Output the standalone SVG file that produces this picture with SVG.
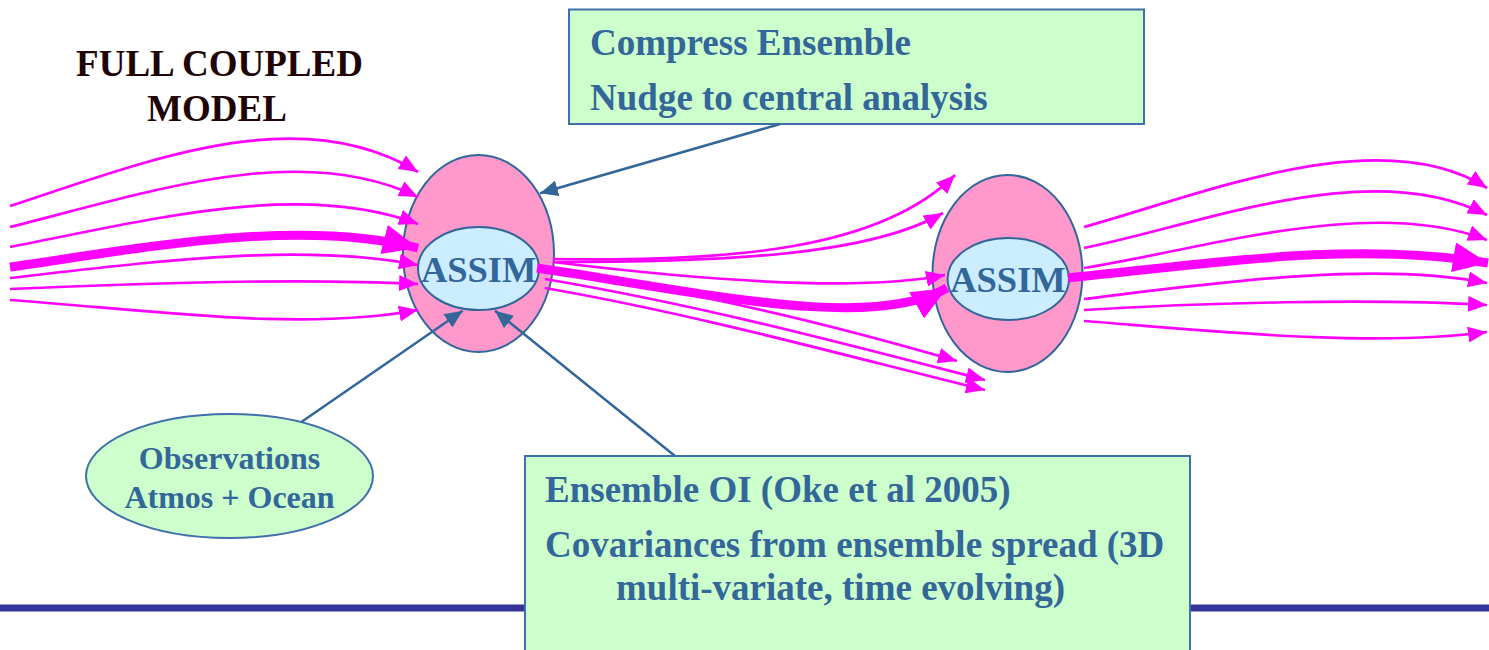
<svg xmlns="http://www.w3.org/2000/svg" width="1489" height="650" viewBox="0 0 1489 650">
<defs>
<style>
.txt{font-family:"Liberation Serif","Times New Roman",serif;font-weight:bold;fill:#336699}
.title{font-family:"Liberation Serif","Times New Roman",serif;font-weight:bold;fill:#1f0505}
.outer{fill:#FF99CC;stroke:#336699;stroke-width:2}
.inner{fill:#CCECFF;stroke:#336699;stroke-width:2}
.box{fill:#CCFFCC;stroke:#4070AA;stroke-width:2}
.mg{fill:none;stroke:#FF00FF;stroke-width:2.7;marker-end:url(#ah)}
.mgT{fill:none;stroke:#FF00FF;stroke-width:9;marker-end:url(#ahT)}
.bl{fill:none;stroke:#336699;stroke-width:2.5;marker-end:url(#ahB)}
</style>
<marker id="ah" markerUnits="userSpaceOnUse" markerWidth="20" markerHeight="16" refX="19" refY="8" orient="auto"><path d="M0,0 L19,8 L0,16 z" fill="#FF00FF"/></marker>
<marker id="ahT" markerUnits="userSpaceOnUse" markerWidth="36" markerHeight="30" refX="35" refY="15" orient="auto"><path d="M0,0 L35,15 L0,30 z" fill="#FF00FF"/></marker>
<marker id="ahB" markerUnits="userSpaceOnUse" markerWidth="19" markerHeight="16" refX="18" refY="8" orient="auto"><path d="M0,0 L18,8 L0,16 z" fill="#336699"/></marker>
</defs>
<rect x="0" y="0" width="1489" height="650" fill="#ffffff"/>
<rect id="divider" x="0" y="604.5" width="1489" height="7" fill="#333399"/>

<g id="title">
<text class="title" x="219.5" y="76" font-size="37" text-anchor="middle">FULL COUPLED</text>
<text class="title" x="217" y="120.5" font-size="37" text-anchor="middle">MODEL</text>
</g>

<g id="assim1">
<ellipse class="outer" cx="478.5" cy="253.5" rx="75.5" ry="98.5"/>
<ellipse class="inner" cx="478.5" cy="268.5" rx="60.5" ry="41.5"/>
<text class="txt" x="478.7" y="282" font-size="36.5" text-anchor="middle">ASSIM</text>
</g>

<g id="assim2">
<ellipse class="outer" cx="1007.5" cy="273.5" rx="75" ry="98.5"/>
<ellipse class="inner" cx="1008.3" cy="279" rx="60.7" ry="41"/>
<text class="txt" x="1008" y="291.5" font-size="36.5" text-anchor="middle">ASSIM</text>
</g>

<g id="observations">
<ellipse class="box" cx="229.5" cy="476" rx="143.5" ry="62" stroke="#336699"/>
<text class="txt" x="229.5" y="469" font-size="32" text-anchor="middle">Observations</text>
<text class="txt" x="229.5" y="507.7" font-size="32" text-anchor="middle">Atmos + Ocean</text>
</g>

<g id="compress">
<rect class="box" x="569" y="9.5" width="575" height="114.5"/>
<text class="txt" x="590" y="55" font-size="37">Compress Ensemble</text>
<text class="txt" x="590" y="110" font-size="37">Nudge to central analysis</text>
</g>

<g id="connectors">
<path class="mg" d="M10,206 C150,160 300,100 418,172"/>
<path class="mg" d="M10,227 C150,192 300,140 418,197"/>
<path class="mg" d="M10,247 C150,220 300,180 418,224"/>
<path class="mgT" d="M10,267 C150,247 300,218 418,248"/>
<path class="mg" d="M10,278 C150,262 300,242 418,265"/>
<path class="mg" d="M10,289 C150,283 300,278 418,284"/>
<path class="mg" d="M10,300 C150,310 300,332 418,310"/>

<path class="mg" d="M553,259 C730,262 880,250 955,175"/>
<path class="mg" d="M553,262 C730,262 870,255 943,213"/>
<path class="mg" d="M553,262 C700,280 860,292 945,275"/>
<path class="mgT" d="M537,268 C700,292 870,332 947,288"/>
<path class="mg" d="M550,272 C700,290 850,330 957,361"/>
<path class="mg" d="M545,279 C700,305 850,345 985,380"/>
<path class="mg" d="M545,288 C700,315 850,357 985,390"/>

<path class="mg" d="M1084,227 C1200,195 1380,120 1487,188"/>
<path class="mg" d="M1084,248 C1200,225 1370,155 1487,215"/>
<path class="mg" d="M1084,268 C1200,250 1370,195 1487,240"/>
<path class="mgT" d="M1068,278 C1200,265 1350,240 1488,263"/>
<path class="mg" d="M1084,299 C1200,285 1370,260 1487,283"/>
<path class="mg" d="M1084,310 C1200,303 1370,298 1487,305"/>
<path class="mg" d="M1084,321 C1200,330 1370,348 1487,332"/>

<path class="bl" d="M780,124 L540,193.3"/>
<path class="bl" d="M301.7,421.7 L462.7,310.7"/>
<path class="bl" d="M675,456 L495,310.7"/>
</g>

<g id="ensembleOI">
<rect class="box" x="525" y="456" width="665" height="210"/>
<text class="txt" x="545" y="501.7" font-size="37">Ensemble OI (Oke et al 2005)</text>
<text class="txt" x="545" y="556.7" font-size="37">Covariances from ensemble spread (3D</text>
<text class="txt" x="616" y="600" font-size="37">multi-variate, time evolving)</text>
</g>
</svg>
